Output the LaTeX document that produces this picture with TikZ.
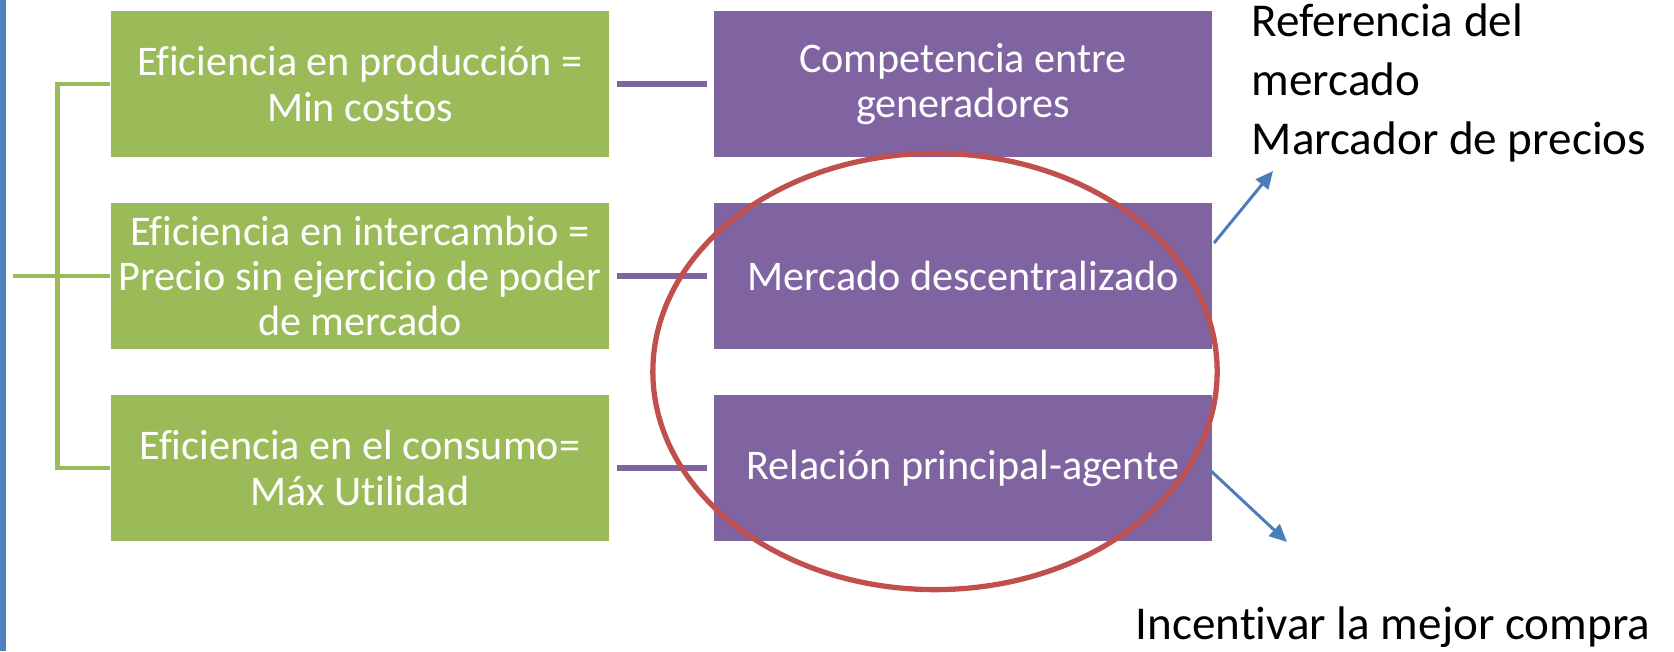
\documentclass[tikz,border=0pt]{standalone}
\usepackage{fontspec}
\setmainfont[Ligatures={NoCommon}]{Carlito}
\usepackage{xcolor}
\usetikzlibrary{arrows.meta,positioning}
\definecolor{boxgreen}{HTML}{9BBB59}
\definecolor{boxpurple}{HTML}{8064A2}
\definecolor{ringred}{HTML}{C0504D}
\definecolor{barblue}{HTML}{4F81BD}
\definecolor{arrowblue}{HTML}{4A7EBB}

\begin{document}
\begin{tikzpicture}[
		x=0.01cm, y=-0.01cm,
		GreenBox/.style={fill=boxgreen,text=white,minimum width=4.98cm,minimum height=1.46cm,inner sep=0pt,align=center,font=\fontsize{12}{12.9}\selectfont},
		PurpleBox/.style={fill=boxpurple,text=white,minimum width=4.98cm,minimum height=1.46cm,inner sep=0pt,align=center,font=\fontsize{12}{12.9}\selectfont},
		Bracket/.style={draw=boxgreen,line width=1.4pt},
		Link/.style={draw=boxpurple,line width=1.5pt,shorten <=0.07cm,shorten >=0.06cm},
		Ring/.style={draw=ringred,line width=1.5pt},
		Pointer/.style={draw=arrowblue,line width=0.85pt,-{Triangle[length=5pt,width=4.5pt]}},
		NoteText/.style={align=left,inner sep=0pt,anchor=west,font=\fontsize{13.4}{16.7}\selectfont}
		]
		
		\useasboundingbox (0,0) rectangle (1674,651);
		
		% side bar
		\fill[barblue] (0,0) rectangle (5.5,651);
		
		% left column
		\node[GreenBox] (prod) at (360,84) {Eficiencia en producción =\\Min costos};
		\node[GreenBox] (inter) at (360,276) {Eficiencia en intercambio =\\Precio sin ejercicio de poder\\de mercado};
		\node[GreenBox] (cons) at (360,468) {Eficiencia en el consumo=\\Máx Utilidad};
		
		% right column
		\node[PurpleBox] (comp) at (963,84) {Competencia entre\\generadores};
		\node[PurpleBox] (merc) at (963,276) {Mercado descentralizado};
		\node[PurpleBox] (rel) at (963,468) {Relación principal-agente};
		
		% bracket
		\coordinate (stub) at (12.8,276);
		\draw[Bracket] (prod.west) -- ++(-52.3,0) |- (cons.west);
		\draw[Bracket] (stub) -- (inter.west);
		
		\draw[Link] (prod) -- (comp);
		\draw[Link] (inter) -- (merc);
		\draw[Link] (cons) -- (rel);
		
		% highlight
		\draw[Ring] (935,371.5) ellipse [x radius=2.82cm, y radius=2.18cm];
		
		% notes
		\node[NoteText] (refnote) at (1251,83) {Referencia del\\mercado\\Marcador de precios};
		\node[NoteText] (incnote) at (1135,627) {Incentivar la mejor compra};
		
		\coordinate (upstart) at (1214,243);
		\coordinate (upend) at (1273,171);
		\coordinate (downstart) at (1210,470);
		\coordinate (downend) at (1287,542);
		\draw[Pointer] (upstart) -- (upend);
		\draw[Pointer] (downstart) -- (downend);
		
\end{tikzpicture}
\end{document}
